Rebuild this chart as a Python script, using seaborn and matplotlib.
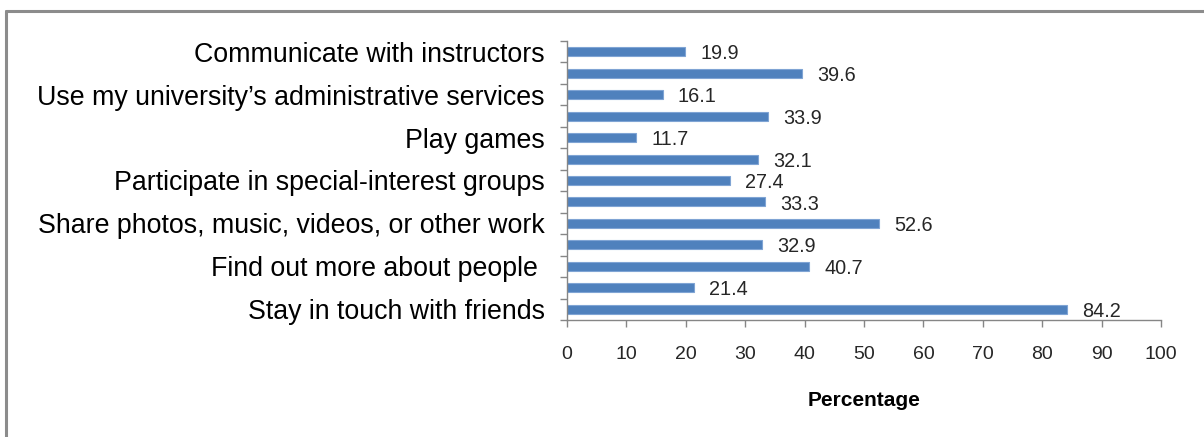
import matplotlib
matplotlib.use("Agg")
import matplotlib.pyplot as plt
from matplotlib.lines import Line2D
import numpy as np
import pandas as pd
import seaborn as sns

# Reasons students use social networking sites (% of respondents), top to bottom
activity_labels = [
    "Communicate with instructors",
    "",
    "Use my university\u2019s administrative services",
    "",
    "Play games",
    "",
    "Participate in special-interest groups",
    "",
    "Share photos, music, videos, or other work",
    "",
    "Find out more about people ",
    "",
    "Stay in touch with friends",
]
percentages = [19.9, 39.6, 16.1, 33.9, 11.7, 32.1, 27.4, 33.3, 52.6, 32.9, 40.7, 21.4, 84.2]
x_ticks = [0, 10, 20, 30, 40, 50, 60, 70, 80, 90, 100]

BAR_BLUE = "#4F81BD"
AXIS_GREY = "#868686"

sns.set_theme(style="white")
plt.rcParams["font.family"] = ["Liberation Sans", "DejaVu Sans"]

W, H = 1204, 437
fig = plt.figure(figsize=(W / 100, H / 100), dpi=100)
fig.patch.set_facecolor("white")

# chart-area frame (left and top edges visible)
fig.add_artist(Line2D([6 / W, 6 / W], [0, 1 - 11 / H], color="#8c8c8c", lw=2.2))
fig.add_artist(Line2D([6 / W, 1.0], [1 - 11 / H, 1 - 11 / H], color="#8c8c8c", lw=2.2))

ax = fig.add_axes([567 / W, 1 - 320 / H, (1161 - 567) / W, (320 - 41) / H])

df = pd.DataFrame({
    "row": [f"r{i}" for i in range(len(percentages))],
    "pct": percentages,
})
sns.barplot(data=df, x="pct", y="row", orient="h", color=BAR_BLUE,
            saturation=1, width=0.42, edgecolor="#7fa4d4", linewidth=0.8, ax=ax)

value_texts = ax.bar_label(ax.containers[0], fmt="%.1f", padding=11,
                           fontsize=14.3, color="#262626")
for t in value_texts:
    t.xyann = (11, -1.5)

# category boundaries carry the tick marks, labels sit at bar centres
n = len(percentages)
ax.set_yticks(np.arange(-0.5, n, 1.0))
ax.set_yticklabels([""] * (n + 1))
ax.set_yticks(np.arange(n), minor=True)
ax.set_yticklabels(activity_labels, minor=True, fontsize=19.3, color="black")
ax.tick_params(axis="y", which="major", length=5, width=1, color=AXIS_GREY, left=True)
ax.tick_params(axis="y", which="minor", length=0, pad=16, left=True)
ax.set_ylim(n - 0.5, -0.5)
ax.set_ylabel("")

ax.set_xlim(0, 100)
ax.set_xticks(x_ticks)
ax.set_xticklabels([str(t) for t in x_ticks], fontsize=14, color="#262626")
ax.tick_params(axis="x", which="major", length=5, width=1, color=AXIS_GREY,
               bottom=True, pad=14)
ax.set_xlabel("Percentage", fontsize=15, fontweight="bold", color="black", labelpad=20)

for side in ("top", "right"):
    ax.spines[side].set_visible(False)
for side in ("left", "bottom"):
    ax.spines[side].set_color(AXIS_GREY)
    ax.spines[side].set_linewidth(1)
ax.grid(False)

fig.savefig("out.png", dpi=100, facecolor="white")
